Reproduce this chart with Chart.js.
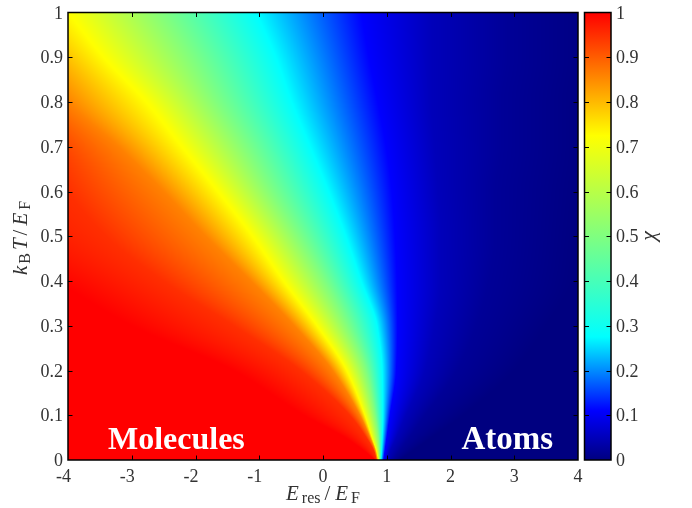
<!DOCTYPE html>
<html>
<head>
<meta charset="utf-8">
<script src="https://cdn.jsdelivr.net/npm/chart.js@4"></script>
<style>
  html, body { margin: 0; background: #fff; }
  #mapChart { position: absolute; left: 0; top: 0; }
  #barChart { position: absolute; left: 574px; top: 0; }
</style>
</head>
<body>
<canvas id="mapChart" width="590" height="508"></canvas>
<canvas id="barChart" width="118" height="508"></canvas>
<script>
// temperature rows of the table, k_B T / E_F
var tempRows = [0, 0.02, 0.05, 0.1, 0.2, 0.3, 0.4, 0.5, 0.6, 0.7, 0.8, 0.9, 1];

// E_res / E_F where chi reaches a given level
var xChi100 = [0.82, 0.65, 0.35, -0.3, -1.4, -3, -4.2, -5.5, -6.5, -7.5, -8.5, -9.5, -10.5];
var xChi095 = [0.84, 0.8, 0.68, 0.42, -0.35, -1.4, -2.5, -3.4, -4, -4.4, -5, -6, -7];
var xChi086 = [0.85, 0.82, 0.74, 0.58, 0.15, -0.45, -1.13, -1.84, -2.5, -3.2, -4, -4.6, -5.3];
var xChi072 = [0.87, 0.84, 0.77, 0.66, 0.38, -0.08, -0.6, -1.08, -1.62, -2.18, -2.73, -3.4, -3.95];
var xChi050 = [0.89, 0.885, 0.87, 0.82, 0.68, 0.39, 0.03, -0.37, -0.8, -1.2, -1.65, -2.05, -2.5];
var xChi028 = [0.91, 0.92, 0.93, 0.94, 0.93, 0.85, 0.6, 0.36, 0.09, -0.2, -0.49, -0.74, -1.05];
var xChi011 = [0.95, 0.97, 1, 1.05, 1.15, 1.17, 1.16, 1.13, 1.08, 0.99, 0.86, 0.72, 0.6];
var xChi005 = [1, 1.05, 1.15, 1.3, 1.6, 1.75, 1.85, 1.85, 1.8, 1.75, 1.7, 1.7, 1.7];
var xChi002 = [1.1, 1.2, 1.35, 1.6, 2.1, 2.4, 2.6, 2.7, 2.7, 2.8, 2.8, 2.9, 2.9];
var xChi000 = [1.2, 1.4, 1.7, 2.2, 3, 3.5, 3.9, 4, 4.1, 4.2, 4.2, 4.3, 4.3];

var chiLevels = [1, 0.95, 0.86, 0.72, 0.5, 0.275, 0.11, 0.05, 0.02, 0];
var xByLevel = [xChi100, xChi095, xChi086, xChi072, xChi050, xChi028, xChi011, xChi005, xChi002, xChi000];

// colour map of the bar
var cmapStops = [0, 0.11, 0.275, 0.725, 1];
var cmapColors = [[0, 0, 128], [0, 0, 255], [0, 255, 255], [255, 255, 0], [255, 0, 0]];

var labelTexts = ['Molecules', 'Atoms'];
var labelX = [-2.3, 2.89];
var labelY = [0.025, 0.025];
var labelSizes = [32, 33];

var serif = '"Liberation Serif", serif';
var inkColor = '#333';

function chiColor(chi) {
    var i = 0;
    while (i < cmapStops.length - 2 && chi > cmapStops[i + 1]) i++;
    var f = (chi - cmapStops[i]) / (cmapStops[i + 1] - cmapStops[i]);
    var a = cmapColors[i], b = cmapColors[i + 1];
    return [a[0] + (b[0] - a[0]) * f, a[1] + (b[1] - a[1]) * f, a[2] + (b[2] - a[2]) * f];
}

// one invisible dataset per chi level, the plugin below shades between them
var isoDatasets = chiLevels.map(function(level, n) {
    return {
        label: 'chi ' + level,
        chi: level,
        data: tempRows.map(function(t, r) { return { x: xByLevel[n][r], y: t }; }),
        pointRadius: 0,
        showLine: false
    };
});

// slopes for a smooth curve through one contour (monotone cubic)
function contourSlopes(data) {
    var d = [], m = [];
    for (var i = 0; i < data.length - 1; i++) d.push((data[i + 1].x - data[i].x) / (data[i + 1].y - data[i].y));
    m.push(d[0]);
    for (i = 1; i < d.length; i++) m.push(d[i - 1] * d[i] <= 0 ? 0 : 2 * d[i - 1] * d[i] / (d[i - 1] + d[i]));
    m.push(d[d.length - 1]);
    return m;
}

function contourAt(data, m, r, t) {
    var h = data[r + 1].y - data[r].y, g = (t - data[r].y) / h;
    var g2 = g * g, g3 = g2 * g;
    return (2 * g3 - 3 * g2 + 1) * data[r].x + (g3 - 2 * g2 + g) * h * m[r] +
        (-2 * g3 + 3 * g2) * data[r + 1].x + (g3 - g2) * h * m[r + 1];
}

var shadePlugin = {
    id: 'shade',
    beforeDatasetsDraw: function(chart) {
        var area = chart.chartArea, xs = chart.scales.x, ys = chart.scales.y;
        var left = Math.round(area.left), top = Math.round(area.top);
        var w = Math.round(area.right) - left, h = Math.round(area.bottom) - top;
        var off = document.createElement('canvas');
        off.width = w;
        off.height = h;
        var octx = off.getContext('2d');
        var img = octx.createImageData(w, h);
        var sets = chart.data.datasets;
        var slopes = sets.map(function(s) { return contourSlopes(s.data); });
        for (var py = 0; py < h; py++) {
            var t = Math.min(1, Math.max(0, ys.getValueForPixel(top + py + 0.5)));
            var r = 0;
            while (r < tempRows.length - 2 && t > tempRows[r + 1]) r++;
            var line = sets.map(function(s, n) { return contourAt(s.data, slopes[n], r, t); });
            for (var px = 0; px < w; px++) {
                var x = xs.getValueForPixel(left + px + 0.5);
                var k = 0, chi;
                if (x <= line[0]) chi = sets[0].chi;
                else if (x >= line[line.length - 1]) chi = sets[line.length - 1].chi;
                else {
                    while (x > line[k + 1]) k++;
                    chi = sets[k].chi + (sets[k + 1].chi - sets[k].chi) * (x - line[k]) / (line[k + 1] - line[k]);
                }
                var c = chiColor(chi), o = (py * w + px) * 4;
                img.data[o] = c[0];
                img.data[o + 1] = c[1];
                img.data[o + 2] = c[2];
                img.data[o + 3] = 255;
            }
        }
        octx.putImageData(img, 0, 0);
        chart.ctx.drawImage(off, left, top);
    }
};

// inward ticks and the black box
var framePlugin = {
    id: 'frame',
    afterDatasetsDraw: function(chart) {
        var ctx = chart.ctx, a = chart.chartArea, ys = chart.scales.y, xs = chart.scales.x;
        var len = 4.5;
        ctx.save();
        ctx.strokeStyle = '#000';
        ctx.lineWidth = 1;
        ctx.beginPath();
        ys.ticks.forEach(function(tick) {
            var p = Math.round(ys.getPixelForValue(tick.value)) + 0.5;
            if (tick.value <= 0 || tick.value >= 1) return;
            ctx.moveTo(a.left, p); ctx.lineTo(a.left + len, p);
            ctx.moveTo(a.right, p); ctx.lineTo(a.right - len, p);
        });
        if (xs.type === 'linear') {
            xs.ticks.forEach(function(tick) {
                var p = Math.round(xs.getPixelForValue(tick.value)) + 0.5;
                if (tick.value <= -4 || tick.value >= 4) return;
                ctx.moveTo(p, a.top); ctx.lineTo(p, a.top + len);
                ctx.moveTo(p, a.bottom); ctx.lineTo(p, a.bottom - len);
            });
        }
        ctx.stroke();
        ctx.lineWidth = 1.5;
        ctx.strokeRect(a.left, a.top, a.right - a.left, a.bottom - a.top);
        ctx.restore();
    }
};

function drawRuns(ctx, runs, cx, cy, rotate) {
    ctx.save();
    ctx.translate(cx, cy);
    if (rotate) ctx.rotate(-Math.PI / 2);
    ctx.fillStyle = inkColor;
    ctx.textBaseline = 'alphabetic';
    ctx.textAlign = 'left';
    var total = 0;
    runs.forEach(function(run) {
        ctx.font = run.font;
        total += ctx.measureText(run.text).width + (run.gap || 0);
    });
    var pos = -total / 2;
    runs.forEach(function(run) {
        ctx.font = run.font;
        ctx.fillText(run.text, pos, run.drop || 0);
        pos += ctx.measureText(run.text).width + (run.gap || 0);
    });
    ctx.restore();
}

var textPlugin = {
    id: 'mapText',
    afterDraw: function(chart) {
        var ctx = chart.ctx, xs = chart.scales.x, ys = chart.scales.y;
        ctx.save();
        ctx.fillStyle = '#fff';
        ctx.textAlign = 'center';
        ctx.textBaseline = 'alphabetic';
        labelTexts.forEach(function(text, i) {
            ctx.font = 'bold ' + labelSizes[i] + 'px ' + serif;
            ctx.fillText(text, xs.getPixelForValue(labelX[i]), ys.getPixelForValue(labelY[i]));
        });
        ctx.restore();

        var it = 'italic 21px ' + serif, up = '21px ' + serif, sub = '16px ' + serif;
        drawRuns(ctx, [
            { text: 'E', font: it, gap: 3 },
            { text: 'res', font: sub, drop: 3, gap: 4 },
            { text: '/', font: up, gap: 5 },
            { text: 'E', font: it, gap: 3 },
            { text: 'F', font: sub, drop: 3 }
        ], 323, 500, false);
        drawRuns(ctx, [
            { text: 'k', font: it, gap: 2 },
            { text: 'B', font: sub, drop: 3, gap: 3 },
            { text: 'T', font: it, gap: 3 },
            { text: '/', font: up, gap: 4 },
            { text: 'E', font: it, gap: 3 },
            { text: 'F', font: sub, drop: 3 }
        ], 27, 238, true);
    }
};

new Chart(document.getElementById('mapChart'), {
    type: 'scatter',
    data: { datasets: isoDatasets },
    plugins: [shadePlugin, framePlugin, textPlugin],
    options: {
        responsive: false,
        devicePixelRatio: 1,
        animation: false,
        events: [],
        layout: { padding: { top: 12.5, right: 12, bottom: 0, left: 0 } },
        plugins: { legend: { display: false }, tooltip: { enabled: false } },
        scales: {
            x: {
                type: 'linear', min: -4, max: 4,
                grid: { display: false, drawTicks: false }, border: { display: false },
                afterFit: function(scale) { scale.height = 48; },
                ticks: { stepSize: 1, autoSkip: false, maxRotation: 0, padding: 6, color: inkColor, font: { family: serif, size: 18 },
                    // the reference centres the digit, not the minus sign, so pad negatives on the right
                    callback: function(v) { return v < 0 ? v + '  ' : String(v); } }
            },
            y: {
                type: 'linear', min: 0, max: 1,
                grid: { display: false, drawTicks: false }, border: { display: false },
                afterFit: function(scale) { scale.width = 68; scale.paddingTop = 0; scale.paddingBottom = 0; },
                ticks: { stepSize: 0.1, autoSkip: false, padding: 5, labelOffset: 1.5, color: inkColor, font: { family: serif, size: 18 },
                    callback: function(v) { return String(+v.toFixed(1)); } }
            }
        }
    }
});

var barTextPlugin = {
    id: 'barText',
    afterDraw: function(chart) {
        drawRuns(chart.ctx, [{ text: 'χ', font: 'italic 22px ' + serif }], 81, 236, true);
    }
};

new Chart(document.getElementById('barChart'), {
    type: 'bar',
    data: {
        labels: ['chi'],
        datasets: [{
            data: [[0, 1]],
            categoryPercentage: 1,
            barPercentage: 1,
            backgroundColor: function(c) {
                var a = c.chart.chartArea;
                if (!a) return '#000';
                var grad = c.chart.ctx.createLinearGradient(0, a.bottom, 0, a.top);
                cmapStops.forEach(function(s, i) {
                    grad.addColorStop(s, 'rgb(' + cmapColors[i].join(',') + ')');
                });
                return grad;
            }
        }]
    },
    plugins: [framePlugin, barTextPlugin],
    options: {
        responsive: false,
        devicePixelRatio: 1,
        animation: false,
        events: [],
        layout: { padding: { top: 12.5, right: 0, bottom: 48, left: 10.5 } },
        plugins: { legend: { display: false }, tooltip: { enabled: false } },
        scales: {
            x: { display: false },
            y: {
                position: 'right', min: 0, max: 1,
                grid: { display: false, drawTicks: false }, border: { display: false },
                afterFit: function(scale) { scale.width = 81; scale.paddingTop = 0; scale.paddingBottom = 0; },
                ticks: { stepSize: 0.1, autoSkip: false, padding: 5, labelOffset: 1.5, color: inkColor, font: { family: serif, size: 18 },
                    callback: function(v) { return String(+v.toFixed(1)); } }
            }
        }
    }
});
</script>
</body>
</html>
